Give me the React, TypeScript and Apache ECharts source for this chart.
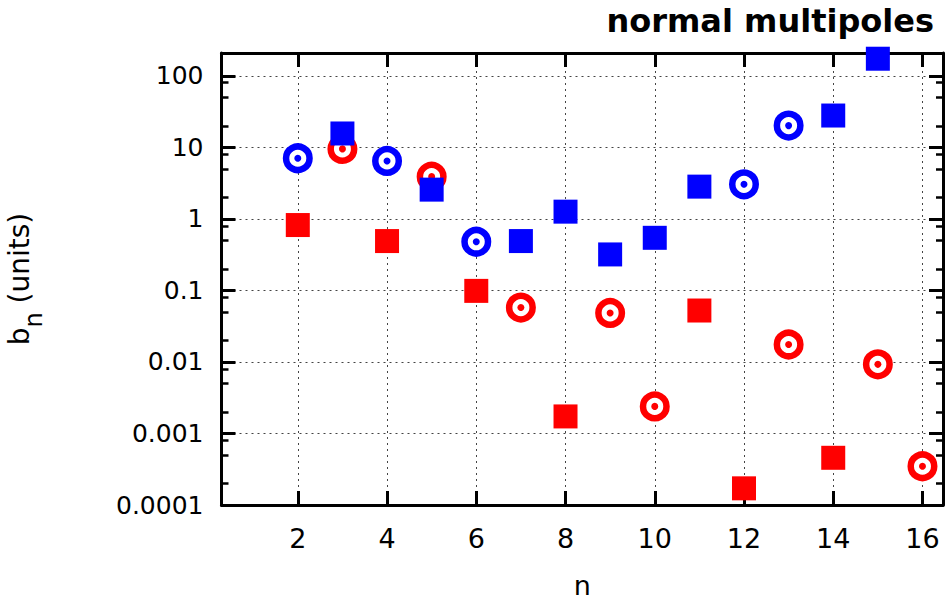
import React, { useEffect, useRef } from "react";
import * as echarts from "echarts";

// ---- data ----
const blueRingN = [2, 4, 6, 12, 13];
const blueRingB = [7.03, 6.45, 0.478, 3.04, 20.1];

const blueSquareN = [3, 5, 7, 8, 9, 10, 11, 14, 15];
const blueSquareB = [15.6, 2.56, 0.489, 1.26, 0.318, 0.543, 2.82, 27.8, 173];

const redRingN = [3, 5, 7, 9, 10, 13, 15, 16];
const redRingB = [9.5, 3.89, 0.0575, 0.0484, 0.00239, 0.0175, 0.00925, 0.000348];

const redSquareN = [2, 4, 6, 8, 11, 12, 14];
const redSquareB = [0.819, 0.489, 0.0984, 0.00173, 0.0523, 0.000171, 0.000457];

const xTicks = [2, 4, 6, 8, 10, 12, 14, 16];
const yMajorTicks = [0.0001, 0.001, 0.01, 0.1, 1, 10, 100];
const yTickLabels = ["0.0001", "0.001", "0.01", "0.1", "1", "10", "100"];
const yMinorTicks = [
  0.0002, 0.0005, 0.0008,
  0.002, 0.005, 0.008,
  0.02, 0.05, 0.08,
  0.2, 0.5, 0.8,
  2, 5, 8,
  20, 50, 80,
];

const titleText = "normal multipoles";
const xName = "n";

const FONT = "DejaVu Sans";
const BLUE = "#0000ff";
const RED = "#ff0000";

const X_MIN = 0.29;
const X_MAX = 16.46;
const Y_MIN = 0.0001;
const Y_MAX = 208;

function pairs(xs: number[], ys: number[]) {
  return xs.map((x, i) => [x, ys[i]]);
}

export default function App() {
  const ref = useRef<HTMLDivElement>(null);

  useEffect(() => {
    if (!ref.current) return;
    const chart = echarts.init(ref.current, null, { renderer: "svg" });

    const gridLine = {
      show: true,
      lineStyle: { color: "#444", width: 1, type: [2, 4] as any },
    };

    const yLabelFmt = (v: number) => {
      const e = Math.log10(v);
      const r = Math.round(e);
      if (Math.abs(e - r) > 1e-6) return "";
      const k = yMajorTicks.findIndex((t) => Math.abs(Math.log10(t) - r) < 1e-6);
      return k >= 0 ? yTickLabels[k] : "";
    };

    const majorTick = () => ({
      show: true,
      inside: true,
      length: 14,
      lineStyle: { color: "#000", width: 3 },
    });

    const minorTick = () => ({
      show: true,
      inside: true,
      length: 7,
      customValues: yMinorTicks,
      lineStyle: { color: "#000", width: 2.5 },
    });

    const ringSeries = (name: string, data: number[][], color: string) => [
      {
        name,
        type: "scatter",
        data,
        symbol: "circle",
        symbolSize: 23.5,
        clip: false,
        itemStyle: { color: "#fff", borderColor: color, borderWidth: 6.5, opacity: 1 },
      },
      {
        name: name + " dot",
        type: "scatter",
        data,
        symbol: "circle",
        symbolSize: 7,
        clip: false,
        itemStyle: { color, opacity: 1 },
      },
    ];

    const option: any = {
      animation: false,
      backgroundColor: "#fff",
      title: {
        text: titleText,
        right: 14,
        top: 5,
        padding: 0,
        textStyle: { fontFamily: FONT, fontSize: 32, fontWeight: "bold", color: "#000" },
      },
      grid: {
        left: 221.5,
        right: 5,
        top: 53,
        bottom: 95,
        containLabel: false,
        outerBoundsMode: "none",
      },
      xAxis: [
        {
          type: "value",
          position: "bottom",
          min: X_MIN,
          max: X_MAX,
          name: xName,
          nameLocation: "middle",
          nameGap: 67,
          nameTextStyle: { fontFamily: FONT, fontSize: 27, color: "#000" },
          axisLine: { show: true, onZero: false, lineStyle: { color: "#000", width: 3 } },
          axisTick: { ...majorTick(), customValues: xTicks },
          axisLabel: {
            customValues: xTicks,
            fontFamily: FONT,
            fontSize: 27,
            color: "#000",
            margin: 20,
          },
          splitLine: gridLine,
        },
        {
          type: "value",
          position: "top",
          min: X_MIN,
          max: X_MAX,
          axisLine: { show: true, onZero: false, lineStyle: { color: "#000", width: 3 } },
          axisTick: { ...majorTick(), customValues: xTicks },
          axisLabel: { show: false },
          splitLine: { show: false },
        },
      ],
      yAxis: [
        {
          type: "log",
          position: "left",
          min: Y_MIN,
          max: Y_MAX,
          logBase: 10,
          name: "{m|b}{s|n}{m| (units)}",
          nameLocation: "middle",
          nameRotate: 90,
          nameGap: 176,
          nameTextStyle: {
            fontFamily: FONT,
            fontSize: 28,
            color: "#000",
            rich: {
              m: { fontFamily: FONT, fontSize: 28, color: "#000", lineHeight: 40, verticalAlign: "top" },
              s: { fontFamily: FONT, fontSize: 24, color: "#000", lineHeight: 24, verticalAlign: "bottom" },
            },
          },
          axisLine: { show: true, onZero: false, lineStyle: { color: "#000", width: 3 } },
          axisTick: majorTick(),
          axisLabel: {
            formatter: yLabelFmt,
            showMaxLabel: false,
            fontFamily: FONT,
            fontSize: 25,
            color: "#000",
            margin: 18,
          },
          splitLine: gridLine,
        },
        {
          type: "log",
          position: "right",
          min: Y_MIN,
          max: Y_MAX,
          logBase: 10,
          axisLine: { show: true, onZero: false, lineStyle: { color: "#000", width: 3 } },
          axisTick: majorTick(),
          axisLabel: { show: false },
          splitLine: { show: false },
        },
        {
          type: "log",
          position: "left",
          min: Y_MIN,
          max: Y_MAX,
          logBase: 10,
          axisLine: { show: false },
          axisTick: minorTick(),
          axisLabel: { show: false },
          splitLine: { show: false },
        },
        {
          type: "log",
          position: "right",
          min: Y_MIN,
          max: Y_MAX,
          logBase: 10,
          axisLine: { show: false },
          axisTick: minorTick(),
          axisLabel: { show: false },
          splitLine: { show: false },
        },
      ],
      series: [
        ...ringSeries("blue ring", pairs(blueRingN, blueRingB), BLUE),
        ...ringSeries("red ring", pairs(redRingN, redRingB), RED),
        {
          name: "red square",
          type: "scatter",
          data: pairs(redSquareN, redSquareB),
          symbol: "rect",
          symbolSize: 24,
          clip: false,
          itemStyle: { color: RED, opacity: 1 },
        },
        {
          name: "blue square",
          type: "scatter",
          data: pairs(blueSquareN, blueSquareB),
          symbol: "rect",
          symbolSize: 24,
          clip: false,
          itemStyle: { color: BLUE, opacity: 1 },
        },
      ],
    };

    chart.setOption(option);
    return () => chart.dispose();
  }, []);

  return (
    <div
      ref={ref}
      style={{ position: "absolute", left: 0, top: 0, width: 948, height: 600 }}
    />
  );
}
